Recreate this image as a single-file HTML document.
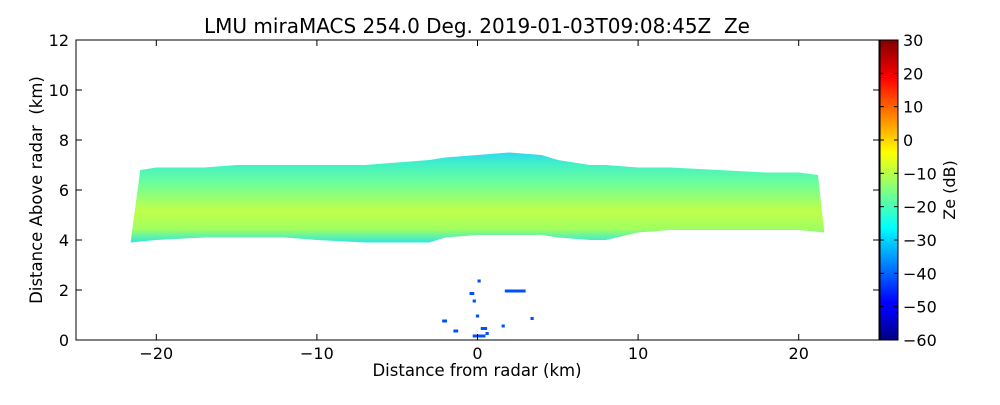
<!DOCTYPE html>
<html><head><meta charset="utf-8"><style>
body{margin:0;background:#fff;width:1000px;height:400px;overflow:hidden}
svg text{font-family:"DejaVu Sans","Liberation Sans",sans-serif;fill:#000;white-space:pre}
</style></head><body>
<svg id="chart" width="1000" height="400">
<defs>
<linearGradient id="jet" x1="0" y1="1" x2="0" y2="0">
<stop offset="0" stop-color="#000080"/><stop offset="0.11" stop-color="#0000ff"/>
<stop offset="0.125" stop-color="#0000ff"/><stop offset="0.375" stop-color="#00ffff"/>
<stop offset="0.625" stop-color="#ffff00"/><stop offset="0.875" stop-color="#ff0000"/>
<stop offset="1" stop-color="#800000"/></linearGradient>
<linearGradient id="band" x1="0" y1="0" x2="0" y2="1">
<stop offset="0" stop-color="#30d8f0"/><stop offset="0.12" stop-color="#40f0c8"/>
<stop offset="0.35" stop-color="#70ff98"/><stop offset="0.65" stop-color="#c0ff48"/>
<stop offset="0.85" stop-color="#a0ff60"/><stop offset="1" stop-color="#30e8e0"/></linearGradient>
</defs>
<text x="477" y="33" font-size="20" text-anchor="middle">LMU miraMACS 254.0 Deg. 2019-01-03T09:08:45Z  Ze</text>
<g id="plot"></g>
<rect x="76" y="40" width="803" height="300" fill="none" stroke="#000"/>
<text x="477" y="376" font-size="16.5" text-anchor="middle">Distance from radar (km)</text>
<text transform="translate(42,190) rotate(-90)" font-size="16.5" text-anchor="middle">Distance Above radar  (km)</text>
<rect x="880" y="40" width="18" height="300" fill="url(#jet)" stroke="#000"/>
<text transform="translate(955,190) rotate(-90)" font-size="16" text-anchor="middle">Ze (dB)</text>
</svg>
<script>
const xTicks=[-20,-10,0,10,20];
const yTicks=[0,2,4,6,8,10,12];
const cTicks=[-60,-50,-40,-30,-20,-10,0,10,20,30];
const topX=[-21,-20,-17,-15,-12,-10,-7,-5,-3,-2,0,2,4,5,7,8,10,12,15,18,20,21.2];
const topH=[6.8,6.9,6.9,7.0,7.0,7.0,7.0,7.1,7.2,7.3,7.4,7.5,7.4,7.2,7.0,7.0,6.9,6.9,6.8,6.7,6.7,6.6];
const botX=[-21.6,-20,-17,-15,-12,-10,-7,-5,-3,-2,0,2,4,5,7,8,10,12,15,18,20,21.6];
const botH=[3.9,4.0,4.1,4.1,4.1,4.0,3.9,3.9,3.9,4.1,4.2,4.2,4.2,4.1,4.0,4.0,4.3,4.4,4.4,4.4,4.4,4.3];
const clutterX=[-2.2,-1.5,-0.5,-0.3,0,0.2,-0.1,0.5,1.5,1.7,2.2,3.3,-0.3,0.1];
const clutterY=[0.7,0.3,1.8,1.5,2.3,0.4,0.9,0.2,0.5,1.9,1.9,0.8,0.1,0.1];
const clutterW=[0.3,0.3,0.3,0.2,0.2,0.4,0.2,0.2,0.2,1.2,0.8,0.2,0.8,0.4];
const xs=v=>76+(v+25)*803/50, ys=v=>340-v*25, cs=v=>340-(v+60)*300/90;
const NS='http://www.w3.org/2000/svg';
const g=document.getElementById('plot'), svg=document.getElementById('chart');
function mk(tag,attrs,parent){const e=document.createElementNS(NS,tag);for(const k in attrs)e.setAttribute(k,attrs[k]);(parent||g).appendChild(e);return e;}
let pts=topX.map((d,i)=>xs(d)+','+ys(topH[i]));
for(let i=botX.length-1;i>=0;i--)pts.push(xs(botX[i])+','+ys(botH[i]));
const band=mk('polygon',{points:pts.join(' '),fill:'url(#band)'});


clutterX.forEach((c,i)=>{const r=mk('rect',{x:xs(c),y:ys(clutterY[i])-3,width:clutterW[i]*16,height:3,fill:'#0050ff'});

});
xTicks.forEach(t=>{const x=xs(t);mk('line',{x1:x,x2:x,y1:340,y2:334,stroke:'#000'});mk('line',{x1:x,x2:x,y1:40,y2:46,stroke:'#000'});
const tx=mk('text',{x:x,y:359,'font-size':16,'text-anchor':'middle'});tx.textContent=(t<0?'\u2212'+(-t):t);

});
yTicks.forEach(t=>{const y=ys(t);mk('line',{x1:76,x2:82,y1:y,y2:y,stroke:'#000'});mk('line',{x1:873,x2:879,y1:y,y2:y,stroke:'#000'});
const tx=mk('text',{x:69,y:y+6,'font-size':16,'text-anchor':'end'});tx.textContent=t;

});
cTicks.forEach(t=>{const y=cs(t);mk('line',{x1:880,x2:884,y1:y,y2:y,stroke:'#000'},svg);mk('line',{x1:894,x2:898,y1:y,y2:y,stroke:'#000'},svg);
const tx=mk('text',{x:903,y:y+6,'font-size':16},svg);tx.textContent=(t<0?'\u2212'+(-t):t);

});
</script>
</body></html>
